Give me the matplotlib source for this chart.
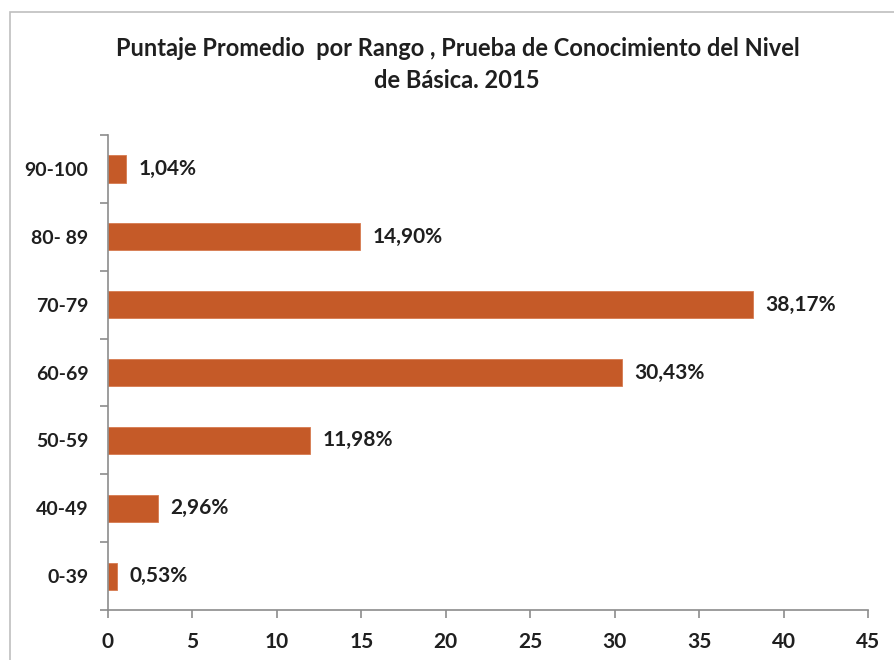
import numpy as np
import matplotlib as mpl
mpl.use('Agg')
from matplotlib import pyplot as plt
from matplotlib.patches import Rectangle

#------------------- Data ----------------------
rangos = ['0-39', '40-49', '50-59', '60-69', '70-79', '80- 89', '90-100']
porcentajes = [0.53, 2.96, 11.98, 30.43, 38.17, 14.90, 1.04]
etiquetas = ['0,53%', '2,96%', '11,98%', '30,43%', '38,17%', '14,90%', '1,04%']
xticks = list(range(0, 50, 5))

plt.rcParams['font.family'] = ['Lato', 'DejaVu Sans']
font = {'color': '#1f1f1f', 'weight': 'bold', 'size': 14}
bar_color = '#C55A28'
axis_color = '#8c8c8c'

fig = plt.figure(figsize=(8.95, 6.6), dpi=100)
ax = fig.add_axes([108/895, 50/660, 760/895, 475/660])

# chart frame
frame = Rectangle((10/895, -0.1), 1.2, 12/660 + 0.1 + (1 - 24/660), transform=fig.transFigure,
                  fill=False, edgecolor='#bfbfbf', linewidth=1.2, clip_on=False)
fig.patches.append(frame)

y = np.arange(len(rangos))
ax.barh(y, porcentajes, height=0.4, color=bar_color, edgecolor='#d77a4f', linewidth=0.6)

for yi, v, t in zip(y, porcentajes, etiquetas):
    ax.text(v + 0.75, yi, t, va='center', ha='left', fontdict=dict(font, size=15))

ax.set_xlim(0, 45)
ax.set_ylim(-0.5, len(rangos) - 0.5)
ax.set_xticks(xticks)
ax.set_xticklabels([str(v) for v in xticks], fontdict=dict(font, size=15))

# category ticks at boundaries, labels at centers
ax.set_yticks(np.arange(-0.5, len(rangos), 1.0))
ax.set_yticklabels([])
ax.set_yticks(y, minor=True)
ax.set_yticklabels(rangos, minor=True, fontdict=font)
ax.tick_params(axis='y', which='minor', length=0, pad=14)
ax.tick_params(axis='y', which='major', length=6, color=axis_color, width=1.2)
ax.tick_params(axis='x', length=6, color=axis_color, width=1.2, pad=10)

for s in ['top', 'right']:
    ax.spines[s].set_visible(False)
for s in ['left', 'bottom']:
    ax.spines[s].set_color(axis_color)
    ax.spines[s].set_linewidth(1.2)

fig.text(458/895, 1 - 48/660, 'Puntaje Promedio  por Rango , Prueba de Conocimiento del Nivel',
         ha='center', va='center', fontsize=17, fontweight='bold', color='#1f1f1f')
fig.text(457/895, 1 - 80/660, 'de Básica. 2015',
         ha='center', va='center', fontsize=17, fontweight='bold', color='#1f1f1f')

plt.savefig('out.png', dpi=100)
